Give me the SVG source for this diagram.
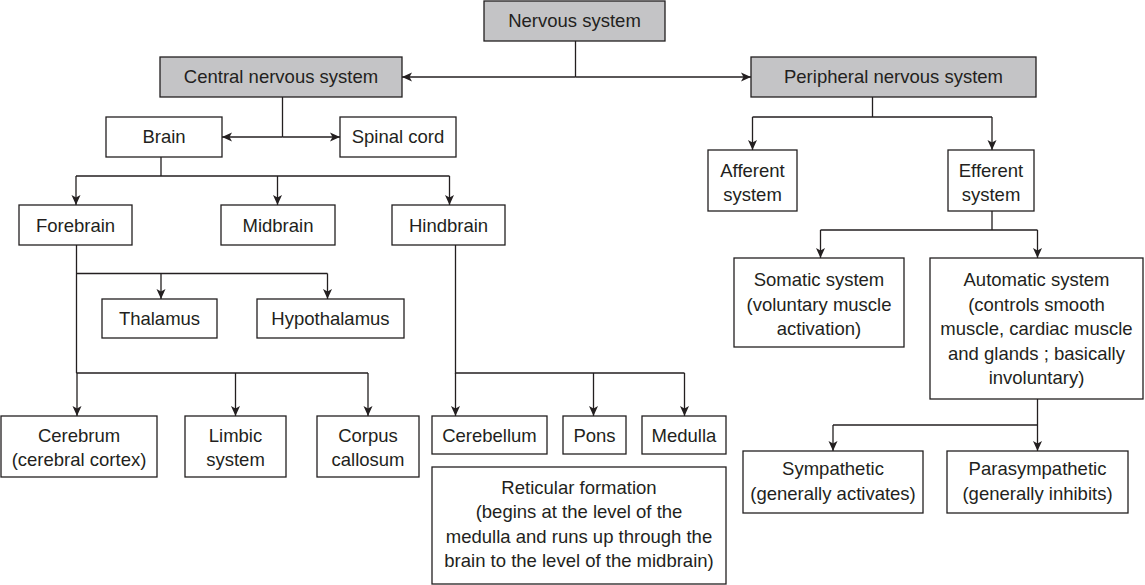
<svg xmlns="http://www.w3.org/2000/svg" width="1145" height="585" viewBox="0 0 1145 585">
<style>
.box{fill:#ffffff;stroke:#231f20;stroke-width:1.3}
.gray{fill:#c4c4c6;stroke:#231f20;stroke-width:1.3}
.t{font-family:"Liberation Sans",Arial,sans-serif;font-size:18.5px;fill:#231f20;text-anchor:middle}
.c{fill:none;stroke:#231f20;stroke-width:1.3}
.a{fill:none;stroke:#231f20;stroke-width:1.3;marker-end:url(#arr)}
</style>
<defs>
<marker id="arr" markerUnits="userSpaceOnUse" markerWidth="11" markerHeight="10" refX="10" refY="5" orient="auto" viewBox="0 0 11 10">
<path d="M0,0.5 L10,5 L0,9.5 L2.5,5 z" fill="#231f20"/>
</marker>
</defs>
<rect width="1145" height="585" fill="#ffffff"/>
<g id="connectors">
<path class="c" d="M575.5,41 V77"/>
<path class="a" d="M575.5,77 H402"/>
<path class="a" d="M575.5,77 H751"/>
<path class="c" d="M282.5,97 V137"/>
<path class="a" d="M282.5,137 H222"/>
<path class="a" d="M282.5,137 H340"/>
<path class="c" d="M161,157 V176 M76,176 H449.5"/>
<path class="a" d="M76,176 V205"/>
<path class="a" d="M277.5,176 V205"/>
<path class="a" d="M449.5,176 V205"/>
<path class="c" d="M76.5,245 V373 M76.5,273.5 H327.5 M76.5,373 H368"/>
<path class="a" d="M161,273.5 V299"/>
<path class="a" d="M327.5,273.5 V299"/>
<path class="a" d="M77,373 V416"/>
<path class="a" d="M235.5,373 V416"/>
<path class="a" d="M368,373 V416"/>
<path class="c" d="M455.5,245 V373 H684.5"/>
<path class="a" d="M455.5,373 V416"/>
<path class="a" d="M593.5,373 V416"/>
<path class="a" d="M684.5,373 V416"/>
<path class="c" d="M872.5,97 V117 M752.5,117 H992"/>
<path class="a" d="M752.5,117 V150"/>
<path class="a" d="M992,117 V150"/>
<path class="c" d="M992,211 V230 M820.5,230 H1037.5"/>
<path class="a" d="M820.5,230 V258"/>
<path class="a" d="M1037.5,230 V258"/>
<path class="a" d="M1037.5,399 V451"/>
<path class="c" d="M1037.5,425 H833"/>
<path class="a" d="M833,425 V451"/>
</g>
<g id="nervous"><rect class="gray" x="484" y="1" width="181" height="40"/><text class="t" x="574.5" y="27">Nervous system</text></g>
<g id="cns"><rect class="gray" x="160" y="57" width="242" height="40"/><text class="t" x="281" y="83">Central nervous system</text></g>
<g id="pns"><rect class="gray" x="751" y="57" width="285" height="40"/><text class="t" x="893.5" y="83">Peripheral nervous system</text></g>
<g id="brain"><rect class="box" x="106" y="117" width="116" height="40"/><text class="t" x="164" y="143">Brain</text></g>
<g id="spinal"><rect class="box" x="340" y="117" width="116" height="40"/><text class="t" x="398" y="143">Spinal cord</text></g>
<g id="afferent"><rect class="box" x="708" y="150" width="89" height="61"/><text class="t" x="752.5" y="177">Afferent</text><text class="t" x="752.5" y="201">system</text></g>
<g id="efferent"><rect class="box" x="948" y="150" width="86" height="61"/><text class="t" x="991" y="177">Efferent</text><text class="t" x="991" y="201">system</text></g>
<g id="forebrain"><rect class="box" x="19" y="205" width="113" height="40"/><text class="t" x="75.5" y="232">Forebrain</text></g>
<g id="midbrain"><rect class="box" x="221" y="205" width="114" height="40"/><text class="t" x="278" y="232">Midbrain</text></g>
<g id="hindbrain"><rect class="box" x="392" y="205" width="113" height="40"/><text class="t" x="448.5" y="232">Hindbrain</text></g>
<g id="thalamus"><rect class="box" x="102" y="299" width="115" height="39"/><text class="t" x="159.5" y="325">Thalamus</text></g>
<g id="hypothalamus"><rect class="box" x="257" y="299" width="147" height="39"/><text class="t" x="330.5" y="325">Hypothalamus</text></g>
<g id="somatic"><rect class="box" x="734" y="258" width="170" height="89"/><text class="t" x="819" y="286">Somatic system</text><text class="t" x="819" y="310.5">(voluntary muscle</text><text class="t" x="819" y="335">activation)</text></g>
<g id="automatic"><rect class="box" x="930" y="258" width="213" height="141"/><text class="t" x="1036.5" y="286">Automatic system</text><text class="t" x="1036.5" y="310.5">(controls smooth</text><text class="t" x="1036.5" y="335">muscle, cardiac muscle</text><text class="t" x="1036.5" y="359.5">and glands ; basically</text><text class="t" x="1036.5" y="384">involuntary)</text></g>
<g id="cerebrum"><rect class="box" x="1" y="416" width="156" height="61"/><text class="t" x="79" y="442">Cerebrum</text><text class="t" x="79" y="466">(cerebral cortex)</text></g>
<g id="limbic"><rect class="box" x="185" y="416" width="101" height="61"/><text class="t" x="235.5" y="442">Limbic</text><text class="t" x="235.5" y="466">system</text></g>
<g id="corpus"><rect class="box" x="317" y="416" width="102" height="61"/><text class="t" x="368" y="442">Corpus</text><text class="t" x="368" y="466">callosum</text></g>
<g id="cerebellum"><rect class="box" x="432" y="416" width="115" height="38"/><text class="t" x="489.5" y="442">Cerebellum</text></g>
<g id="pons"><rect class="box" x="563" y="416" width="63" height="38"/><text class="t" x="594.5" y="442">Pons</text></g>
<g id="medulla"><rect class="box" x="642" y="416" width="84" height="38"/><text class="t" x="684" y="442">Medulla</text></g>
<g id="reticular"><rect class="box" x="432" y="467" width="294" height="117"/><text class="t" x="579" y="494">Reticular formation</text><text class="t" x="579" y="518">(begins at the level of the</text><text class="t" x="579" y="542.5">medulla and runs up through the</text><text class="t" x="579" y="567">brain to the level of the midbrain)</text></g>
<g id="sympathetic"><rect class="box" x="743" y="451" width="180" height="62"/><text class="t" x="833" y="475">Sympathetic</text><text class="t" x="833" y="500">(generally activates)</text></g>
<g id="parasympathetic"><rect class="box" x="947" y="451" width="181" height="62"/><text class="t" x="1037.5" y="475">Parasympathetic</text><text class="t" x="1037.5" y="500">(generally inhibits)</text></g>
</svg>
